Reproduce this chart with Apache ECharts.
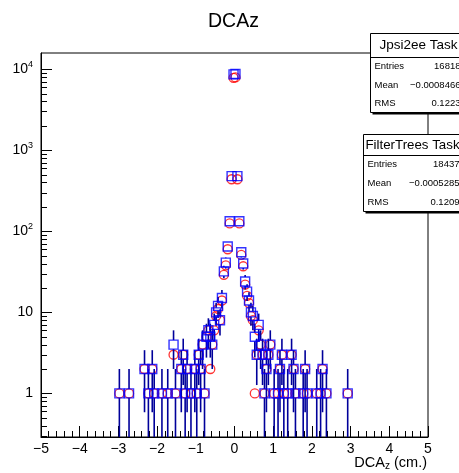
<!DOCTYPE html>
<html>
<head>
<meta charset="utf-8">
<script src="https://cdn.jsdelivr.net/npm/echarts@6/dist/echarts.min.js"></script>
<style>
html, body { margin: 0; padding: 0; background: #fff; }
#chart { width: 459px; height: 473px; }
</style>
</head>
<body>
<div id="chart"></div>
<script>
// DCAz distributions: bin centres (cm, 0.05 cm bins) and counts per bin
const filterX = [
  -2.975, -2.725, -2.325, -2.225, -2.125, -2.075, -1.875, -1.725, -1.575, -1.525,
  -1.375, -1.325, -1.275, -1.225, -1.125, -1.025, -0.975, -0.925, -0.875, -0.825,
  -0.775, -0.725, -0.675, -0.625, -0.575, -0.525, -0.475, -0.425, -0.375, -0.325,
  -0.275, -0.225, -0.175, -0.125, -0.075, -0.025, 0.025, 0.075, 0.125, 0.175,
  0.225, 0.275, 0.325, 0.375, 0.425, 0.475, 0.525, 0.575, 0.625, 0.675,
  0.725, 0.775, 0.825, 0.875, 0.925, 1.025, 1.125, 1.175, 1.225, 1.275,
  1.375, 1.475, 1.525, 1.575, 1.775, 1.825, 1.875, 2.125, 2.225, 2.275,
  2.375, 2.925
];
const filterY = [
  1, 1, 2, 1, 2, 1, 1, 1, 4, 1,
  2, 3, 1, 2, 1, 2, 1, 3, 2, 4,
  1, 5, 6, 5, 4, 7, 10, 12, 8, 15,
  32, 41, 65, 133, 478, 8600, 8700, 478, 133, 55,
  40, 24, 18, 14, 10, 9, 5, 3, 7, 4,
  3, 1, 2, 3, 4, 1, 1, 2, 3, 1,
  1, 3, 2, 1, 1, 2, 1, 1, 1, 2,
  1, 1
];
const jpsiX = [
  -2.975, -2.725, -2.325, -2.225, -2.125, -2.075, -1.875, -1.725, -1.575, -1.525,
  -1.375, -1.325, -1.275, -1.225, -1.125, -1.025, -0.975, -0.925, -0.875, -0.825,
  -0.775, -0.725, -0.675, -0.625, -0.575, -0.525, -0.475, -0.425, -0.375, -0.325,
  -0.275, -0.225, -0.175, -0.125, -0.075, -0.025, 0.025, 0.075, 0.125, 0.175,
  0.225, 0.275, 0.325, 0.375, 0.425, 0.475, 0.525, 0.575, 0.625, 0.675,
  0.725, 0.775, 0.825, 0.875, 0.925, 1.025, 1.125, 1.175, 1.225, 1.275,
  1.375, 1.475, 1.525, 1.575, 1.775, 1.825, 1.875, 2.125, 2.225, 2.275,
  2.375, 2.925
];
const jpsiY = [
  1, 1, 2, 1, 2, 1, 1, 1, 3, 1,
  2, 3, 1, 2, 1, 2, 1, 3, 2, 4,
  1, 5, 6, 2, 4, 6, 9, 11, 8, 14,
  29, 38, 60, 125, 438, 7800, 7900, 438, 125, 51,
  37, 22, 16, 13, 9, 8, 1, 3, 6, 4,
  3, 1, 2, 3, 4, 1, 1, 2, 3, 1,
  1, 3, 2, 1, 1, 2, 1, 1, 1, 2,
  1, 1
];
const xTickValues = [-5, -4, -3, -2, -1, 0, 1, 2, 3, 4, 5];
const yMajorTicks = [1, 10, 100, 1000, 10000];
const yMinorTicks = [
  0.3, 0.4, 0.5, 0.6, 0.7, 0.8, 0.9,
  2, 3, 4, 5, 6, 7, 8, 9,
  20, 30, 40, 50, 60, 70, 80, 90,
  200, 300, 400, 500, 600, 700, 800, 900,
  2000, 3000, 4000, 5000, 6000, 7000, 8000, 9000
];
const statJpsi = { title: 'Jpsi2ee Task', entries: '16818', mean: '\u22120.0008466', rms: '0.1223' };
const statFilter = { title: 'FilterTrees Task', entries: '18437', mean: '\u22120.0005285', rms: '0.1209' };

const Y_MIN = 0.29, Y_MAX = 15800;
const FONT = 'Liberation Sans, Arial, Helvetica, sans-serif';
const MARK = 9;

const chart = echarts.init(document.getElementById('chart'), null, { renderer: 'canvas' });

function pairs(xs, ys) { return xs.map((x, i) => [x, ys[i]]); }

// vertical Poisson error bars, leaving a gap around the marker
function errorBars(xs, ys, color, z) {
  return {
    type: 'custom', z: z, clip: true, silent: true,
    data: pairs(xs, ys),
    renderItem: function (params, api) {
      const x = api.value(0), v = api.value(1);
      const e = Math.sqrt(v);
      const hi = api.coord([x, v + e]);
      const lo = api.coord([x, Math.max(v - e, Y_MIN)]);
      const c = api.coord([x, v]);
      const g = MARK / 2;
      const kids = [];
      if (c[1] - g > hi[1]) kids.push({ type: 'line', shape: { x1: c[0], y1: hi[1], x2: c[0], y2: c[1] - g }, style: { stroke: color, lineWidth: 1.6 } });
      if (lo[1] > c[1] + g) kids.push({ type: 'line', shape: { x1: c[0], y1: c[1] + g, x2: c[0], y2: lo[1] }, style: { stroke: color, lineWidth: 1.6 } });
      return { type: 'group', children: kids };
    }
  };
}

// inward ticks on the log axis: long at each decade, short at 2..9
function logTicks(values, len) {
  return {
    type: 'custom', silent: true, z: 1, clip: true,
    data: values.map(v => [-5, v]),
    renderItem: function (params, api) {
      const p = api.coord([api.value(0), api.value(1)]);
      const y = Math.round(p[1]) + 0.5;
      return { type: 'line', shape: { x1: p[0], y1: y, x2: p[0] + len, y2: y }, style: { stroke: '#000', lineWidth: 1 } };
    }
  };
}

// statistics box: title row, then Entries / Mean / RMS rows
function statBox(s, left, top, width, height, titleH, titleSize, valueX) {
  const rowH = (height - titleH) / 3;
  const children = [
    { type: 'rect', shape: { x: 2, y: 2, width: width, height: height }, style: { fill: '#000' } },
    { type: 'rect', shape: { x: 0, y: 0, width: width, height: height }, style: { fill: '#fff', stroke: '#000', lineWidth: 1 } },
    { type: 'line', shape: { x1: 0, y1: titleH, x2: width, y2: titleH }, style: { stroke: '#000', lineWidth: 1 } },
    { type: 'text', x: width / 2, y: titleH / 2, style: { text: s.title, font: titleSize + 'px ' + FONT, fill: '#000', align: 'center', verticalAlign: 'middle' } }
  ];
  const rows = [['Entries', s.entries], ['Mean', s.mean], ['RMS', s.rms]];
  rows.forEach((r, i) => {
    const y = titleH + rowH * (i + 0.5);
    children.push({ type: 'text', x: 4, y: y, style: { text: r[0], font: '9.5px ' + FONT, fill: '#000', align: 'left', verticalAlign: 'middle' } });
    children.push({ type: 'text', x: valueX, y: y, style: { text: r[1], font: '9.5px ' + FONT, fill: '#000', align: 'right', verticalAlign: 'middle' } });
  });
  return { type: 'group', left: left, top: top, z: 100, children: children };
}

const option = {
  animation: false,
  backgroundColor: '#fff',
  title: {
    text: 'DCAz', left: 203, top: 7,
    textStyle: { fontFamily: FONT, fontSize: 19.5, fontWeight: 'normal', color: '#000' }
  },
  grid: { left: 41, right: 31, top: 53, bottom: 36, show: true, borderColor: '#000', borderWidth: 1, backgroundColor: 'transparent' },
  xAxis: {
    type: 'value', min: -5, max: 5, interval: 1,
    axisLine: { show: true, onZero: false, lineStyle: { color: '#000', width: 1 } },
    axisTick: { show: true, inside: true, length: 11, lineStyle: { color: '#000' } },
    minorTick: { show: true, splitNumber: 5, length: 6, lineStyle: { color: '#000' } },
    splitLine: { show: false },
    axisLabel: {
      color: '#000', fontFamily: FONT, fontSize: 14, margin: 5,
      formatter: v => xTickValues.includes(v) ? String(v).replace('-', '\u2212') : ''
    }
  },
  yAxis: {
    type: 'log', logBase: 10, min: Y_MIN, max: Y_MAX,
    axisLine: { show: true, onZero: false, lineStyle: { color: '#000', width: 1 } },
    axisTick: { show: false },
    splitLine: { show: false },
    axisLabel: {
      color: '#000', fontFamily: FONT, fontSize: 14, margin: 8,
      showMinLabel: false, showMaxLabel: false,
      formatter: function (v) {
        const p = Math.round(Math.log10(v));
        if (p <= 1) return String(Math.round(v));
        return '{b|10}{s|' + p + '}';
      },
      rich: {
        b: { fontFamily: FONT, fontSize: 14, color: '#000' },
        s: { fontFamily: FONT, fontSize: 9, color: '#000', verticalAlign: 'bottom', padding: [0, 0, 9, 0] }
      }
    }
  },
  series: [
    logTicks(yMajorTicks, 11),
    logTicks(yMinorTicks, 6),
    {
      name: 'Jpsi2ee Task', type: 'scatter', z: 3, symbol: 'circle', symbolSize: MARK,
      data: pairs(jpsiX, jpsiY),
      itemStyle: { color: 'rgba(0,0,0,0)', borderColor: '#ff0000', borderWidth: 1.3 }
    },
    errorBars(filterX, filterY, '#00009a', 4),
    {
      name: 'FilterTrees Task', type: 'scatter', z: 5, symbol: 'rect', symbolSize: MARK,
      data: pairs(filterX, filterY),
      itemStyle: { color: 'rgba(0,0,0,0)', borderColor: '#0000ff', borderWidth: 1.4 }
    }
  ],
  graphic: [
    {
      type: 'text', right: 32, top: 455, z: 100,
      style: {
        text: '{a|DCA}{s|z}{a| (cm.)}',
        rich: {
          a: { fontFamily: FONT, fontSize: 14.5, fill: '#000' },
          s: { fontFamily: FONT, fontSize: 10, fill: '#000', verticalAlign: 'top', padding: [8, 0, 0, 0] }
        }
      }
    },
    statBox(statJpsi, 368, 33, 96, 79, 24, 13.5, 90),
    statBox(statFilter, 361, 134, 98, 77, 21, 13.3, 96)
  ]
};
chart.setOption(option);
</script>
</body>
</html>
